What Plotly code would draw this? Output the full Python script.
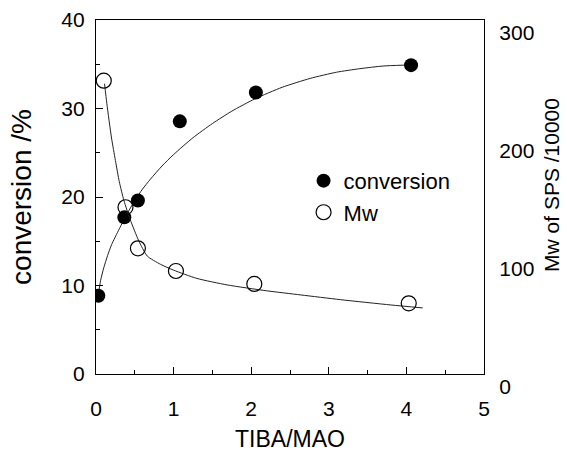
import plotly.graph_objects as go

# measured points
conv_x = [0.03, 0.365, 0.54, 1.08, 2.06, 4.06]
conv_y = [8.85, 17.7, 19.6, 28.55, 31.8, 34.9]

mw_x = [0.10, 0.38, 0.54, 1.03, 2.04, 4.03]
mw_y = [248.6, 141.3, 106.5, 87.3, 76.3, 59.9]

# hand-drawn fit curves
conv_fit_x = [0.03, 0.06, 0.10, 0.15, 0.20, 0.30, 0.40, 0.50, 0.60, 0.70, 0.85, 1.00, 1.25, 1.50, 1.75,
              2.05, 2.40, 2.76, 3.10, 3.40, 3.70, 3.97]
conv_fit_y = [8.9, 10.6, 12.0, 13.4, 14.6, 16.4, 18.1, 19.6, 20.9, 22.0, 23.5, 24.8, 26.7, 28.3, 29.7,
              31.1, 32.4, 33.4, 34.1, 34.5, 34.8, 34.9]

mw_fit_x = [0.11, 0.14, 0.20, 0.25, 0.30, 0.36, 0.44, 0.55, 0.66, 0.83, 1.00, 1.30, 1.69, 2.20, 2.64,
            3.15, 3.80, 4.21]
mw_fit_y = [246, 229, 200, 181, 163, 147, 131, 113, 100, 93, 88, 81, 75.5, 70.5, 67, 63, 58.5, 56]

x_ticks = [0, 1, 2, 3, 4, 5]
y_ticks = [0, 10, 20, 30, 40]
y2_ticks = [0, 100, 200, 300]

FONT = "Liberation Sans, Arial, sans-serif"

fig = go.Figure()
fig.add_trace(go.Scatter(x=conv_fit_x, y=conv_fit_y, mode="lines",
                         line=dict(color="#222", width=1, shape="spline", smoothing=0.6),
                         showlegend=False, hoverinfo="skip"))
fig.add_trace(go.Scatter(x=mw_fit_x, y=mw_fit_y, mode="lines", yaxis="y2",
                         line=dict(color="#222", width=1, shape="spline", smoothing=0.6),
                         showlegend=False, hoverinfo="skip"))
fig.add_trace(go.Scatter(x=conv_x, y=conv_y, mode="markers", name="conversion", legendgroup="a",
                         marker=dict(symbol="circle", size=14, color="black")))
fig.add_trace(go.Scatter(x=mw_x, y=mw_y, mode="markers", name="Mw", yaxis="y2", legendgroup="b",
                         marker=dict(symbol="circle-open", size=15, color="black", line=dict(width=1.2))))

fig.update_layout(
    width=567, height=452,
    margin=dict(l=96, r=83, t=20, b=78),
    paper_bgcolor="white", plot_bgcolor="white",
    font=dict(family=FONT, color="black", size=21),
    xaxis=dict(range=[0, 5], tickvals=x_ticks, showline=True, linecolor="black", linewidth=1.2, mirror=True,
               ticks="inside", ticklen=7, tickcolor="black", showgrid=False, zeroline=False, automargin=False,
               minor=dict(dtick=0.5, ticks="inside", ticklen=4, tickcolor="black"),
               ticklabelstandoff=16,
               title=dict(text="TIBA/MAO", font=dict(size=23), standoff=11)),
    yaxis=dict(range=[0, 40], tickvals=y_ticks, showline=True, linecolor="black", linewidth=1.2,
               ticks="inside", ticklen=7, tickcolor="black", showgrid=False, zeroline=False, automargin=False,
               minor=dict(dtick=5, ticks="inside", ticklen=4, tickcolor="black"),
               ticklabelstandoff=6,
               title=dict(text="conversion /%", font=dict(size=28), standoff=21)),
    yaxis2=dict(range=[0, 300], tickvals=y2_ticks, overlaying="y", side="right", showline=True, linecolor="black",
                linewidth=1.2, ticks="", showgrid=False, zeroline=False, automargin=False,
                ticklabelshift=13, ticklabelstandoff=10),
    legend=dict(x=0.535, y=0.605, xanchor="left", yanchor="top", bgcolor="rgba(0,0,0,0)",
                font=dict(size=22), tracegroupgap=0),
    annotations=[dict(text="Mw of SPS /10000", xref="paper", yref="paper", x=1, y=0.534, xshift=68,
                      xanchor="center", yanchor="middle", textangle=-90, showarrow=False,
                      font=dict(size=21))],
    showlegend=True,
)

fig.write_html("out.html")
